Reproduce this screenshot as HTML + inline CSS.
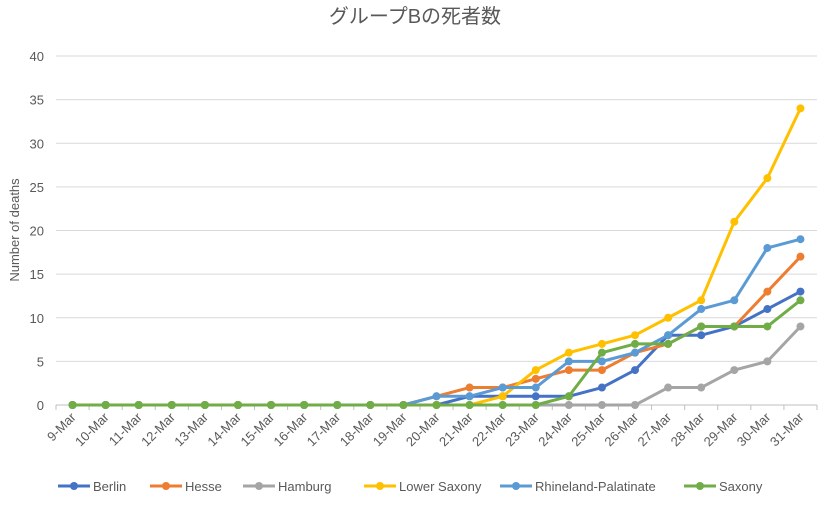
<!DOCTYPE html>
<html><head><meta charset="utf-8"><style>
body{margin:0;background:#fff;}
svg text{font-family:"Liberation Sans","Noto Sans CJK JP",sans-serif;fill:#595959;}
</style></head><body>
<svg id="c" width="831" height="505"></svg>
<script>
const categories=["9-Mar","10-Mar","11-Mar","12-Mar","13-Mar","14-Mar","15-Mar","16-Mar","17-Mar","18-Mar","19-Mar","20-Mar","21-Mar","22-Mar","23-Mar","24-Mar","25-Mar","26-Mar","27-Mar","28-Mar","29-Mar","30-Mar","31-Mar"];
const berlin=[0,0,0,0,0,0,0,0,0,0,0,0,1,1,1,1,2,4,8,8,9,11,13];
const hesse=[0,0,0,0,0,0,0,0,0,0,0,1,2,2,3,4,4,6,7,9,9,13,17];
const hamburg=[0,0,0,0,0,0,0,0,0,0,0,0,0,0,0,0,0,0,2,2,4,5,9];
const lowerSaxony=[0,0,0,0,0,0,0,0,0,0,0,0,0,1,4,6,7,8,10,12,21,26,34];
const rhineland=[0,0,0,0,0,0,0,0,0,0,0,1,1,2,2,5,5,6,8,11,12,18,19];
const saxony=[0,0,0,0,0,0,0,0,0,0,0,0,0,0,0,1,6,7,7,9,9,9,12];
const yTicks=[0,5,10,15,20,25,30,35,40];
const seriesNames=["Berlin","Hesse","Hamburg","Lower Saxony","Rhineland-Palatinate","Saxony"];
const seriesColors=["#4472C4","#ED7D31","#A5A5A5","#FFC000","#5B9BD5","#70AD47"];
const seriesData=[berlin,hesse,hamburg,lowerSaxony,rhineland,saxony];
const svg=document.getElementById('c');const NS="http://www.w3.org/2000/svg";
function mk(t,a,p){const e=document.createElementNS(NS,t);for(const k in a)e.setAttribute(k,a[k]);(p||svg).appendChild(e);return e;}
const L=56,R=817,T=56,B=405,yMax=40;
const step=(R-L)/categories.length;
const xs=i=>L+step*(i+0.5);
const ys=v=>B-(v/yMax)*(B-T);
let t=mk('text',{x:415,y:23,'text-anchor':'middle','font-size':20});t.textContent="グループBの死者数";

yTicks.forEach(v=>{
 const g=mk('line',{x1:L,x2:R,y1:ys(v),y2:ys(v),stroke:v?'#D9D9D9':'#BFBFBF','stroke-width':1});
 
 const tx=mk('text',{x:44,y:ys(v)+5,'text-anchor':'end','font-size':13});tx.textContent=v;
 
});
categories.forEach((c,i)=>{
 const tk=mk('line',{x1:L+step*i,x2:L+step*i,y1:B,y2:B+5,stroke:'#BFBFBF'});
 
 const x=xs(i)+4,y=B+13;
 const tx=mk('text',{x:x,y:y,'text-anchor':'end','font-size':13,transform:`rotate(-45 ${x} ${y})`});tx.textContent=c;
 
});
mk('line',{x1:R,x2:R,y1:B,y2:B+5,stroke:'#BFBFBF'});
t=mk('text',{x:19,y:230,'text-anchor':'middle','font-size':13,transform:'rotate(-90 19 230)'});t.textContent="Number of deaths";

seriesData.forEach((d,s)=>{
 const g=mk('g',{});
 const ln=mk('polyline',{points:d.map((v,i)=>xs(i)+','+ys(v)).join(' '),fill:'none',stroke:seriesColors[s],'stroke-width':3,'stroke-linejoin':'round'},g);
 
 d.forEach((v,i)=>{const p=mk('circle',{cx:xs(i),cy:ys(v),r:4,fill:seriesColors[s]},g);
  });
});
const lx=[58,150,243,364,500,684];
seriesNames.forEach((n,s)=>{
 const g=mk('g',{});
 mk('line',{x1:lx[s],x2:lx[s]+32,y1:486,y2:486,stroke:seriesColors[s],'stroke-width':3},g);
 mk('circle',{cx:lx[s]+16,cy:486,r:4,fill:seriesColors[s]},g);
 const tx=mk('text',{x:lx[s]+35,y:491,'font-size':13},g);tx.textContent=n;
});
</script></body></html>
